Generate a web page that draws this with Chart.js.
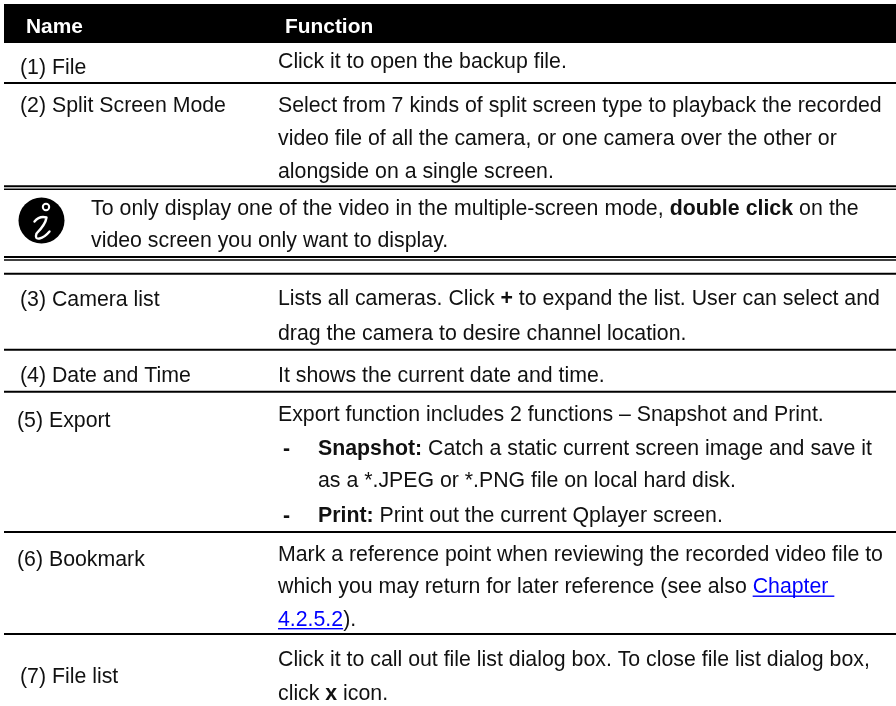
<!DOCTYPE html>
<html>
<head>
<meta charset="utf-8">
<title>Name and Function table</title>
<script src="https://cdn.jsdelivr.net/npm/chart.js@4"></script>
<style>
  html, body { margin: 0; padding: 0; background: #fff; }
  canvas { display: block; }
</style>
</head>
<body>
<canvas id="myChart" width="896" height="706"></canvas>
<script>
// the reference is a two column table, so the "data" is its text and its rules
var headers = ['Name', 'Function'];
var names = ['(1) File', '(2) Split Screen Mode', '(3) Camera list', '(4) Date and Time', '(5) Export', '(6) Bookmark', '(7) File list'];
var functions = [
	'Click it to open the backup file.',
	'Select from 7 kinds of split screen type to playback the recorded',
	'video file of all the camera, or one camera over the other or',
	'alongside on a single screen.',
	'Lists all cameras. Click **+** to expand the list. User can select and',
	'drag the camera to desire channel location.',
	'It shows the current date and time.',
	'Export function includes 2 functions \u2013 Snapshot and Print.',
	'**Snapshot:** Catch a static current screen image and save it',
	'as a *.JPEG or *.PNG file on local hard disk.',
	'**Print:** Print out the current Qplayer screen.',
	'Mark a reference point when reviewing the recorded video file to',
	'which you may return for later reference (see also [[Chapter ]]',
	'[[4.2.5.2]]).',
	'Click it to call out file list dialog box. To close file list dialog box,',
	'click **x** icon.'
];
var notes = [
	'To only display one of the video in the multiple-screen mode, **double click** on the',
	'video screen you only want to display.'
];
var bullets = ['-', '-'];

// where things sit on the page, in page pixels
var headerX = [26, 285];
var headerBase = 33;
var nameX = [20, 20, 20, 20, 17, 17, 20];
var nameBase = [74, 111.5, 306, 382, 427, 566, 683];
var functionX = [278, 278, 278, 278, 278, 278, 278, 278, 318, 318, 318, 278, 278, 278, 278, 278];
var functionBase = [68, 112, 144.5, 177.5, 305, 339.5, 382, 421, 455, 487, 522, 561, 593, 625.5, 666, 700];
var noteX = 91;
var noteBase = [215, 247];
var noteWordGap = ['0.2px', '0px'];
var bulletX = 283;
var bulletBase = [455, 522];

var barY = [23.5];
var thickRules = [83, 186.2, 257, 273.7, 349.8, 391.8, 532, 634];
var thinRules = [189.2, 260];
var iconCentre = [{x: 41.5, y: 220.5}];

var FONT = '"Liberation Sans", Arial, sans-serif';
var TEXT_SIZE = 21.3;
var HEADER_SIZE = 20.9;

function rule(y, width) {
	return {
		type: 'line',
		data: [{x: 4, y: y}, {x: 896, y: y}],
		borderColor: '#000',
		borderWidth: width,
		pointRadius: 0,
		borderCapStyle: 'butt'
	};
}

function runs(line) {
	// **bold** and [[link]] are split out of the plain text
	return line.split(/(\*\*.+?\*\*|\[\[.+?\]\])/).filter(Boolean).map(function(p) {
		if (p.indexOf('**') === 0) return {text: p.slice(2, -2), bold: true};
		if (p.indexOf('[[') === 0) return {text: p.slice(2, -2), link: true};
		return {text: p};
	});
}

function drawLine(ctx, scales, line, x, y, color, size) {
	var px = scales.x.getPixelForValue(x);
	var py = scales.y.getPixelForValue(y);
	runs(line).forEach(function(r) {
		ctx.font = (r.bold ? 'bold ' : '') + (size || TEXT_SIZE) + 'px ' + FONT;
		ctx.fillStyle = r.link ? '#0000ff' : color;
		ctx.fillText(r.text, px, py);
		var w = ctx.measureText(r.text).width;
		if (r.link) ctx.fillRect(px, py + 2.5, w, 1.4);
		px += w;
	});
}

var tablePlugin = {
	id: 'tableText',
	afterDatasetsDraw: function(chart) {
		var ctx = chart.ctx, s = chart.scales;
		ctx.save();
		ctx.textBaseline = 'alphabetic';
		ctx.textAlign = 'left';

		headers.forEach(function(h, i) {
			drawLine(ctx, s, '**' + h + '**', headerX[i], headerBase, '#fff', HEADER_SIZE);
		});
		names.forEach(function(n, i) {
			drawLine(ctx, s, n, nameX[i], nameBase[i], '#111');
		});
		functions.forEach(function(f, i) {
			drawLine(ctx, s, f, functionX[i], functionBase[i], '#111');
		});
		notes.forEach(function(n, i) {
			ctx.wordSpacing = noteWordGap[i];
			drawLine(ctx, s, n, noteX, noteBase[i], '#111');
		});
		ctx.wordSpacing = '0px';
		bullets.forEach(function(b, i) {
			drawLine(ctx, s, '**' + b + '**', bulletX, bulletBase[i], '#111');
		});

		// the script i inside the note icon
		var cx = s.x.getPixelForValue(iconCentre[0].x);
		var cy = s.y.getPixelForValue(iconCentre[0].y);
		ctx.strokeStyle = '#fff';
		ctx.lineCap = 'round';
		ctx.lineJoin = 'round';
		ctx.lineWidth = 2;
		ctx.beginPath();
		ctx.arc(cx + 4.5, cy - 13.5, 3.2, 0, Math.PI * 2);
		ctx.stroke();
		ctx.lineWidth = 2.4;
		ctx.beginPath();
		ctx.moveTo(cx - 7, cy + 1);
		ctx.quadraticCurveTo(cx - 2, cy - 5, cx + 5, cy - 3);
		ctx.quadraticCurveTo(cx + 4, cy + 4, cx - 5, cy + 13);
		ctx.quadraticCurveTo(cx - 7, cy + 19, cx - 2, cy + 18);
		ctx.quadraticCurveTo(cx + 3, cy + 17, cx + 8, cy + 11);
		ctx.stroke();
		ctx.restore();
	}
};

var datasets = [];
datasets.push(rule(barY[0], 39));
thickRules.forEach(function(y) { datasets.push(rule(y, 2)); });
thinRules.forEach(function(y) { datasets.push(rule(y, 1.4)); });
datasets.push({
	type: 'scatter',
	data: iconCentre,
	pointStyle: 'circle',
	pointRadius: 23,
	pointBackgroundColor: '#000',
	pointBorderWidth: 0
});

new Chart(document.getElementById('myChart'), {
	type: 'scatter',
	data: {datasets: datasets},
	plugins: [tablePlugin],
	options: {
		responsive: false,
		animation: false,
		events: [],
		layout: {padding: 0, autoPadding: false},
		plugins: {legend: {display: false}, tooltip: {enabled: false}, title: {display: false}},
		scales: {
			x: {type: 'linear', min: 0, max: 896, display: false},
			y: {type: 'linear', min: 0, max: 706, reverse: true, display: false}
		}
	}
});
</script>
</body>
</html>
